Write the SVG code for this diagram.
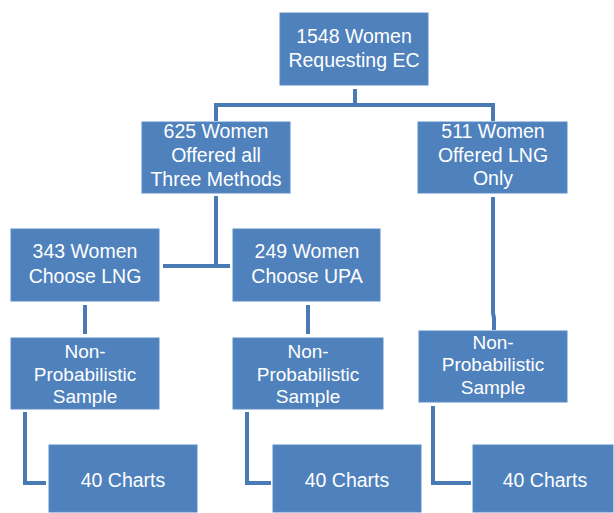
<svg xmlns="http://www.w3.org/2000/svg" width="614" height="513" viewBox="0 0 614 513">
<style>
.box{fill:#4F81BD;stroke:#5B8CC7;stroke-width:1}
.t{font-family:"Liberation Sans",Arial,sans-serif;font-size:19.5px;fill:#FFFFFF;text-anchor:middle}
.s{font-size:19px}
.c{fill:none;stroke:#4A7AB4;stroke-width:4}
</style>
<rect width="614" height="513" fill="#FFFFFF"/>
<g id="connectors">
<polyline class="c" points="355,89 355,105"/>
<polyline class="c" points="216,121 216,105 493,105 493,121"/>
<polyline class="c" points="216,196 216,266"/>
<polyline class="c" points="163,266 230,266"/>
<polyline class="c" points="85,305 85,334"/>
<polyline class="c" points="308,305 308,334"/>
<polyline class="c" points="493,197 493,313 494,318 494,330"/>
<polyline class="c" points="25,412 25,483 46,483"/>
<polyline class="c" points="247,412 247,483 271,483"/>
<polyline class="c" points="433,406 433,483 471,483"/>
</g>
<g id="n1548"><rect class="box" x="280" y="13" width="148" height="72"/>
<text class="t" x="354" y="43">1548 Women</text><text class="t" x="354" y="67">Requesting EC</text></g>
<g id="n625"><rect class="box" x="142" y="122" width="148" height="71"/>
<text class="t" x="216" y="138">625 Women</text><text class="t" x="216" y="162">Offered all</text><text class="t" x="216" y="186">Three Methods</text></g>
<g id="n511"><rect class="box" x="418" y="122" width="149" height="71"/>
<text class="t" x="493" y="138">511 Women</text><text class="t" x="493" y="162">Offered LNG</text><text class="t" x="493" y="185">Only</text></g>
<g id="n343"><rect class="box" x="11" y="229" width="148" height="72"/>
<text class="t" x="85" y="258">343 Women</text><text class="t" x="85" y="283">Choose LNG</text></g>
<g id="n249"><rect class="box" x="233" y="229" width="147" height="72"/>
<text class="t" x="307" y="258">249 Women</text><text class="t" x="307" y="283">Choose UPA</text></g>
<g id="np1"><rect class="box" x="11" y="338" width="148" height="71"/>
<text class="t s" x="85" y="358">Non-</text><text class="t s" x="85" y="381">Probabilistic</text><text class="t s" x="85" y="403">Sample</text></g>
<g id="np2"><rect class="box" x="233" y="338" width="150" height="71"/>
<text class="t s" x="308" y="358">Non-</text><text class="t s" x="308" y="381">Probabilistic</text><text class="t s" x="308" y="403">Sample</text></g>
<g id="np3"><rect class="box" x="419" y="331" width="148" height="71"/>
<text class="t s" x="493" y="349">Non-</text><text class="t s" x="493" y="371">Probabilistic</text><text class="t s" x="493" y="394">Sample</text></g>
<g id="c1"><rect class="box" x="49" y="445" width="148" height="67"/>
<text class="t" x="123" y="487">40 Charts</text></g>
<g id="c2"><rect class="box" x="273" y="445" width="148" height="67"/>
<text class="t" x="347" y="487">40 Charts</text></g>
<g id="c3"><rect class="box" x="473" y="445" width="140" height="67"/>
<text class="t" x="545" y="487">40 Charts</text></g>
</svg>
